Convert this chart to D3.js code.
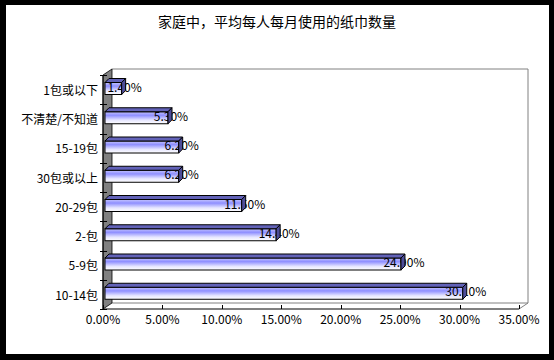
<!DOCTYPE html>
<html>
<head>
<meta charset="utf-8">
<script src="https://cdn.jsdelivr.net/npm/d3@7"></script>
<style>
  body { margin: 0; background: #000; }
  svg { display: block; }
  text { font-family: "Noto Sans CJK SC", "Noto Sans", sans-serif; fill: #000; }
</style>
</head>
<body>
<div id="chart"></div>
<script>
const title = "家庭中，平均每人每月使用的纸巾数量";
const categories = ["1包或以下", "不清楚/不知道", "15-19包", "30包或以上", "20-29包", "2-包", "5-9包", "10-14包"];
const values = [1.4, 5.3, 6.2, 6.2, 11.5, 14.4, 24.9, 30.1];
const ticks = [0, 5, 10, 15, 20, 25, 30, 35];

const W = 554, H = 360;
const depth = { dx: 9, dy: -6 };      // wall depth
const barDepth = { dx: 4, dy: -4 };   // bar thickness in depth
const front = { left: 103, right: 519, top: 75, bottom: 309 };

const svg = d3.select("#chart").append("svg").attr("width", W).attr("height", H);

// frame
svg.append("rect").attr("width", W).attr("height", H).attr("fill", "#000");
svg.append("rect").attr("x", 6).attr("y", 5).attr("width", 543).attr("height", 349).attr("fill", "#fff");

svg.append("text")
    .attr("x", 277).attr("y", 22)
    .attr("text-anchor", "middle").attr("dy", "0.35em")
    .style("font-size", "14px")
    .text(title);

const x = d3.scaleLinear().domain([0, 35]).range([front.left, front.right]);
const y = d3.scaleBand().domain(categories).range([front.top, front.bottom]);

const defs = svg.append("defs");
const grad = defs.append("linearGradient").attr("id", "barGrad")
    .attr("x1", 0).attr("y1", 0).attr("x2", 0).attr("y2", 1);
[[0, "#c4c4ff"], [0.3, "#8f8fff"], [0.7, "#e6e6ff"], [1, "#ffffff"]].forEach(([o, c]) =>
    grad.append("stop").attr("offset", o).attr("stop-color", c));

const g = svg.append("g");

// back wall
const bx0 = front.left + depth.dx, bx1 = front.right + depth.dx;
const by0 = front.top + depth.dy, by1 = front.bottom + depth.dy;
g.append("path")
    .attr("d", `M${bx0},${by0}H${bx1}V${by1}H${bx0}`)
    .attr("fill", "none").attr("stroke", "#808080");
g.append("line")
    .attr("x1", front.right).attr("y1", front.bottom).attr("x2", bx1).attr("y2", by1)
    .attr("stroke", "#808080");

// left wall
g.append("path")
    .attr("d", `M${front.left},${front.top}L${bx0},${by0}V${by1}L${front.left},${front.bottom}Z`)
    .attr("fill", "#808080").attr("stroke", "#000").attr("stroke-width", 0.8);

// axes
g.append("line")
    .attr("x1", front.left).attr("y1", front.top).attr("x2", front.left).attr("y2", front.bottom)
    .attr("stroke", "#000");
g.append("line")
    .attr("x1", front.left).attr("y1", front.bottom).attr("x2", front.right).attr("y2", front.bottom)
    .attr("stroke", "#000");

// y ticks (category boundaries)
const yBounds = categories.map(c => y(c)).concat([front.bottom]);
g.selectAll(".ytick").data(yBounds).enter().append("line")
    .attr("x1", front.left - 3).attr("x2", front.left + 4)
    .attr("y1", d => Math.round(d) + 0.5).attr("y2", d => Math.round(d) + 0.5)
    .attr("stroke", "#000");

// x ticks
g.selectAll(".xtick").data(ticks).enter().append("line")
    .attr("x1", d => Math.round(x(d)) + 0.5).attr("x2", d => Math.round(x(d)) + 0.5)
    .attr("y1", front.bottom - 4).attr("y2", front.bottom)
    .attr("stroke", "#000");

g.selectAll(".xlabel").data(ticks).enter().append("text")
    .attr("x", d => x(d)).attr("y", 320)
    .attr("text-anchor", "middle").attr("dy", "0.35em")
    .style("font-size", "12px")
    .text(d => d.toFixed(2) + "%");

g.selectAll(".ylabel").data(categories).enter().append("text")
    .attr("x", 98).attr("y", d => y(d) + y.bandwidth() / 2 + 1)
    .attr("text-anchor", "end").attr("dy", "0.35em")
    .style("font-size", "12px")
    .text(d => d);

// bars
const off = 2; // bars sit slightly inside the front plane
const bh = 12;
const bars = g.selectAll(".bar").data(categories.map((c, i) => ({ c, v: values[i] })))
    .enter().append("g");

bars.append("rect")
    .attr("x", front.left + off)
    .attr("y", d => y(d.c) + 7.5)
    .attr("width", d => x(d.v) - front.left)
    .attr("height", bh)
    .attr("fill", "url(#barGrad)")
    .attr("stroke", "#000");

bars.append("text")
    .attr("x", d => x(d.v) + off + 3)
    .attr("y", d => y(d.c) + 7.5 + bh / 2 - 1)
    .attr("text-anchor", "middle").attr("dy", "0.35em")
    .style("font-size", "12px")
    .text(d => d.v.toFixed(2) + "%");

// top face
bars.append("path")
    .attr("d", d => {
        const x0 = front.left + off, x1 = x(d.v) + off, yt = y(d.c) + 7.5;
        return `M${x0},${yt}L${x0 + barDepth.dx},${yt + barDepth.dy}H${x1 + barDepth.dx}L${x1},${yt}Z`;
    })
    .attr("fill", "#6262b8").attr("stroke", "#000");

// side face
bars.append("path")
    .attr("d", d => {
        const x1 = x(d.v) + off, yt = y(d.c) + 7.5;
        return `M${x1},${yt}L${x1 + barDepth.dx},${yt + barDepth.dy}V${yt + barDepth.dy + bh}L${x1},${yt + bh}Z`;
    })
    .attr("fill", "#4d4d99").attr("stroke", "#000");
</script>
</body>
</html>
